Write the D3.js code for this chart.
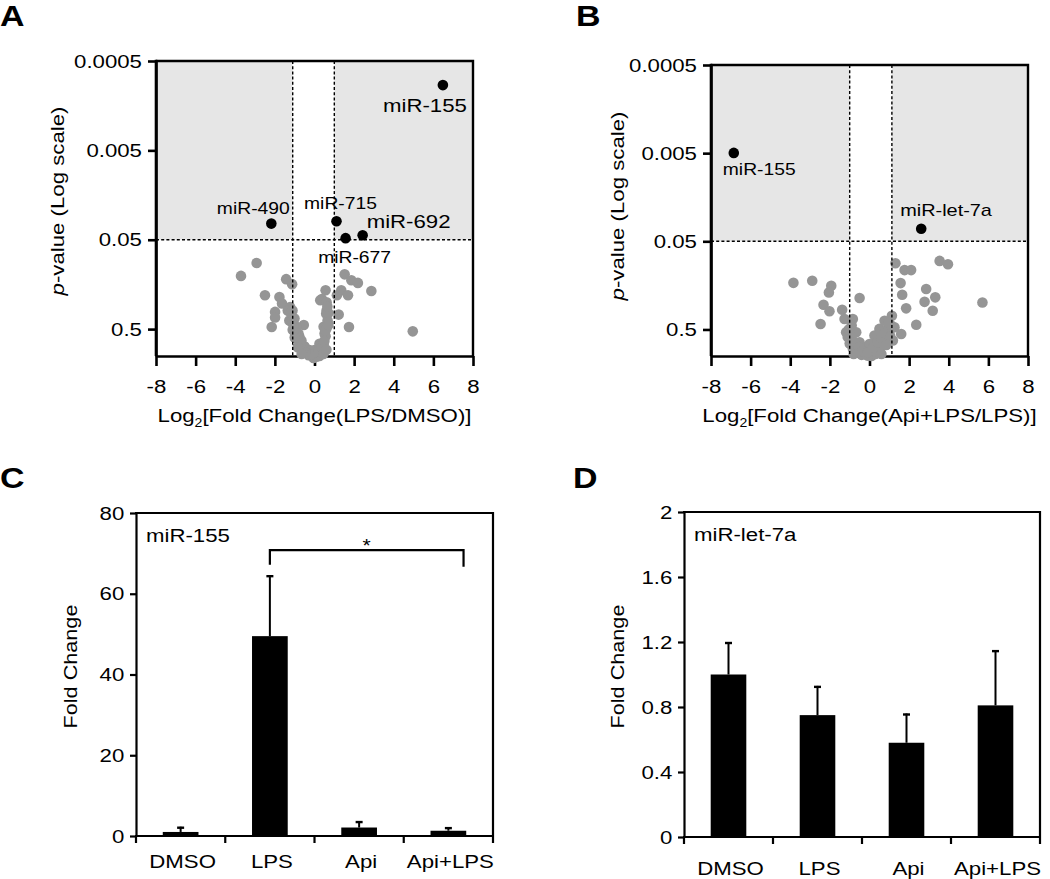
<!DOCTYPE html>
<html>
<head>
<meta charset="utf-8">
<script src="https://cdn.jsdelivr.net/npm/d3@7"></script>
<style>
  html, body { margin: 0; padding: 0; background: #fff; }
  svg text { font-family: 'Liberation Sans', Arial, Helvetica, sans-serif; fill: #000; }
</style>
</head>
<body>
<svg id="fig" width="1050" height="879"></svg>
<script>
// ---------------- DATA ----------------
const fcTicks = [-8, -6, -4, -2, 0, 2, 4, 6, 8];
const pTicks = [0.0005, 0.005, 0.05, 0.5];
const pTickLabels = ["0.0005", "0.005", "0.05", "0.5"];
const pCutoff = 0.05;

// Panel A: Log2 FC (LPS/DMSO), gray (non-significant) miRNAs
const aGrayFC = [-3.71, -2.92, -2.50, -1.43, -1.13, -1.77, -1.64, -1.99, -1.99, -2.16, -1.23, -1.35, -1.27, -1.10,
  -0.54, -0.76, -0.51, -0.25, 0.00, 0.25, 0.51, 0.59, 0.56, 0.37, 0.29, 0.67, 0.46,
  1.52, 1.86, 2.19, 2.87, 1.35, 1.69, 1.13, 1.22, 1.74, 4.96,
  -1.11, -1.01, -0.91, -0.81, -0.66, -0.51, -0.35, -0.20, 0.00, 0.15, 0.30, 0.46, 0.56, 0.61, 0.66, 0.61, 0.61,
  -0.76, -0.96, -1.06, -0.30, 0.25, 0.40, -0.05, 0.10,
  -1.20, -1.05, -0.95, -0.85, -0.70, -0.60, -0.45, -0.15, 0.05, 0.20, 0.35, 0.50, 0.55, 0.70, 0.70, 0.65,
  -1.15, -1.00, -0.85, -0.65, 0.45, 0.60];
const aGrayP = [0.127, 0.091, 0.209, 0.138, 0.157, 0.219, 0.259, 0.321, 0.37, 0.473, 0.283, 0.31, 0.40, 0.51,
  0.45, 0.61, 0.79, 0.86, 0.86, 0.73, 0.56, 0.336, 0.184, 0.23, 0.238, 0.43, 0.47,
  0.122, 0.142, 0.152, 0.187, 0.184, 0.209, 0.209, 0.344, 0.473, 0.53,
  0.31, 0.38, 0.47, 0.56, 0.67, 0.78, 0.86, 0.93, 1.0, 0.95, 0.86, 0.74, 0.60, 0.49, 0.40, 0.31, 0.25,
  0.76, 0.63, 0.52, 0.98, 1.0, 0.91, 1.05, 1.02,
  0.33, 0.45, 0.55, 0.62, 0.72, 0.85, 0.92, 0.97, 0.90, 0.88, 0.80, 0.68, 0.52, 0.45, 0.33, 0.28,
  0.42, 0.62, 0.80, 0.95, 0.95, 0.85];
// Panel A: significant miRNAs
const aHitNames = ["miR-155", "miR-490", "miR-715", "miR-677", "miR-692"];
const aHitFC = [6.48, -2.18, 1.11, 1.57, 2.43];
const aHitP = [0.00093, 0.033, 0.031, 0.048, 0.0445];

// Panel B: Log2 FC (Api+LPS/LPS)
const bGrayFC = [-3.84, -2.89, -1.93, -2.05, -2.32, -2.02, -2.47, -1.38, -1.26, -0.50, -0.84, -1.18, -0.67, -0.50,
  -0.17, -0.84, 1.31, 1.77, 2.10, 1.57, 1.65, 1.85, 2.86, 3.32, 2.78, 3.19, 2.36, 3.54, 3.96, 5.70,
  1.60, 1.26, 1.13, 0.76, 0.50, 0.25, 0.00, 0.17, 0.50, 0.84, 1.18, -0.25, -1.10,
  -0.60, -0.40, 0.10, 0.30, 0.65, 1.00, 1.10, -1.00, -0.90, 0.90, -0.10, 0.35,
  -0.90, -0.75, -0.55, -0.35, -0.10, 0.20, 0.40, 0.60, 0.75, 0.95, 1.05, 0.85, -1.05, -0.80, 0.60];
const bGrayP = [0.148, 0.140, 0.160, 0.190, 0.262, 0.311, 0.434, 0.299, 0.380, 0.220, 0.380, 0.537, 0.537, 0.698,
  0.794, 0.830, 0.0887, 0.106, 0.106, 0.149, 0.202, 0.288, 0.174, 0.216, 0.243, 0.307, 0.442, 0.0834, 0.091, 0.247,
  0.562, 0.472, 0.349, 0.398, 0.493, 0.587, 0.73, 0.906, 0.83, 0.64, 0.668, 0.946, 0.61,
  0.90, 0.97, 1.0, 0.95, 0.75, 0.55, 0.45, 0.72, 0.45, 0.50, 0.99, 0.88,
  0.60, 0.70, 0.80, 0.88, 0.92, 0.80, 0.70, 0.62, 0.55, 0.42, 0.60, 0.75, 0.50, 0.95, 0.95];
const bHitNames = ["miR-155", "miR-let-7a"];
const bHitFC = [-6.85, 2.61];
const bHitP = [0.00497, 0.036];

// Panels C and D: qPCR fold change
const barCats = ["DMSO", "LPS", "Api", "Api+LPS"];
const mir155Mean = [1.0, 49.5, 2.1, 1.3];
const mir155Err = [1.3, 15.1, 1.6, 0.9];
const mir155Ticks = [0, 20, 40, 60, 80];
const let7aMean = [1.0, 0.75, 0.58, 0.81];
const let7aErr = [0.20, 0.18, 0.18, 0.34];
const let7aTicks = [0, 0.4, 0.8, 1.2, 1.6, 2];
const let7aTickLabels = ["0", "0.4", "0.8", "1.2", "1.6", "2"];

// ---------------- DRAWING ----------------
const SX = 1.17; // horizontal glyph stretch of the original figure's font
const svg = d3.select("#fig");

function label(g, x, y, str, o = {}) {
  const t = g.append("text")
    .attr("transform", `translate(${x},${y}) rotate(${o.rotate || 0}) scale(${SX},1)`)
    .attr("text-anchor", o.anchor || "start")
    .attr("font-size", o.size || 19)
    .attr("font-weight", o.weight || "normal")
    .attr("fill", "#000");
  if (str !== null) t.text(str);
  return t;
}

function volcano(cfg) {
  const g = svg.append("g");
  const x = d3.scaleLinear().domain([-8, 8]).range(cfg.xr);
  const y = d3.scaleLog().domain([0.0005, 1]).range(cfg.yr);
  const [x0, x1] = cfg.xr, [yt, yb] = [cfg.yr[0], cfg.yr[1]];

  // shaded significance region
  g.append("rect").attr("x", x0).attr("y", yt).attr("width", x(cfg.thr[0]) - x0).attr("height", y(pCutoff) - yt).attr("fill", "#e6e6e6");
  g.append("rect").attr("x", x(cfg.thr[1])).attr("y", yt).attr("width", x1 - x(cfg.thr[1])).attr("height", y(pCutoff) - yt).attr("fill", "#e6e6e6");

  // axes
  const ya = g.append("g").attr("transform", `translate(${x0},0)`)
    .call(d3.axisLeft(y).tickValues(pTicks).tickFormat((d, i) => pTickLabels[i]).tickSize(8).tickSizeOuter(0).tickPadding(4));
  const xa = g.append("g").attr("transform", `translate(0,${yb})`)
    .call(d3.axisBottom(x).tickValues(fcTicks).tickFormat(d3.format("d")).tickSize(10).tickSizeOuter(0).tickPadding(14));
  [ya, xa].forEach(a => {
    a.select(".domain").attr("stroke-width", 2.6);
    a.selectAll(".tick line").attr("stroke-width", 2.6);
    a.selectAll(".tick text").attr("font-size", 19).attr("fill", "#000")
      .attr("font-family", "'Liberation Sans', Arial, sans-serif");
  });
  ya.selectAll(".tick text").attr("transform", `scale(${SX},1)`);
  xa.selectAll(".tick text").attr("transform", `scale(${SX},1)`).text(d => d < 0 ? "-" + Math.abs(d) : d);
  // frame top & right
  g.append("path").attr("d", `M${x0},${yt}H${x1}V${yb}`).attr("fill", "none").attr("stroke", "#000").attr("stroke-width", 2.4);
  g.append("line").attr("x1", x0).attr("x2", x0).attr("y1", yt - 1.2).attr("y2", yb).attr("stroke", "#000").attr("stroke-width", 2.6);

  // gray points
  g.append("g").selectAll("circle").data(cfg.gFC).join("circle")
    .attr("cx", d => x(d)).attr("cy", (d, i) => y(cfg.gP[i])).attr("r", 5.3).attr("fill", "#959595");

  // dashed thresholds
  const dash = { stroke: "#000", "stroke-width": 1.4, "stroke-dasharray": "3,2.2" };
  const dl = [
    [x(cfg.thr[0]), yt, x(cfg.thr[0]), yb],
    [x(cfg.thr[1]), yt, x(cfg.thr[1]), yb],
    [x0, y(pCutoff), x1, y(pCutoff)]
  ];
  dl.forEach(l => {
    const ln = g.append("line").attr("x1", l[0]).attr("y1", l[1]).attr("x2", l[2]).attr("y2", l[3]);
    Object.entries(dash).forEach(([k, v]) => ln.attr(k, v));
  });

  // significant points
  g.append("g").selectAll("circle").data(cfg.hFC).join("circle")
    .attr("cx", d => x(d)).attr("cy", (d, i) => y(cfg.hP[i])).attr("r", 5.3).attr("fill", "#000");
  cfg.hNames.forEach((n, i) => {
    const o = cfg.lab[i];
    label(g, x(cfg.hFC[i]) + o[0], y(cfg.hP[i]) + o[1], n, { anchor: o[2], size: o[3] });
  });

  // axis titles
  const xt = label(g, (x0 + x1) / 2, yb + 66, null, { anchor: "middle", size: 19 });
  xt.append("tspan").text("Log");
  xt.append("tspan").text("2").attr("font-size", 12).attr("dy", 5);
  xt.append("tspan").text(cfg.xTitle).attr("dy", -5);
  const yt2 = label(g, cfg.yTitleX, cfg.yTitleY, null, { anchor: "middle", size: 19, rotate: -90 });
  yt2.append("tspan").text("p").attr("font-style", "italic").attr("fill", "#000");
  yt2.append("tspan").text("-value (Log scale)").attr("fill", "#000");

  label(g, cfg.letter[1], cfg.letter[2], cfg.letter[0], { size: 29, weight: "bold" });
}

volcano({
  xr: [156, 473], yr: [61, 356], thr: [-1.1, 1.0],
  gFC: aGrayFC, gP: aGrayP, hFC: aHitFC, hP: aHitP, hNames: aHitNames,
  lab: [[24, 27, "end", 19], [-18, -10, "middle", 16.5], [4, -12, "middle", 16.5], [9, 25, "middle", 16.5], [4, -7, "start", 19]],
  xTitle: "[Fold Change(LPS/DMSO)]", yTitleX: 64, yTitleY: 201,
  letter: ["A", 0, 26]
});
volcano({
  xr: [711, 1028], yr: [65, 356], thr: [-1.0, 1.13],
  gFC: bGrayFC, gP: bGrayP, hFC: bHitFC, hP: bHitP, hNames: bHitNames,
  lab: [[-11, 22, "start", 16.5], [-21, -13, "start", 17]],
  xTitle: "[Fold Change(Api+LPS/LPS)]", yTitleX: 624, yTitleY: 206,
  letter: ["B", 576, 26]
});

function barPanel(cfg) {
  const g = svg.append("g");
  const x = d3.scaleBand().domain(barCats).range(cfg.xr).paddingInner(0).paddingOuter(0);
  const y = d3.scaleLinear().domain([0, cfg.ymax]).range(cfg.yr);
  const [x0, x1] = cfg.xr, [yb, yt] = cfg.yr;
  const bw = x.bandwidth() * 0.4;

  // bars
  g.selectAll("rect.bar").data(cfg.mean).join("rect").attr("class", "bar")
    .attr("x", (d, i) => x(barCats[i]) + x.bandwidth() / 2 - bw / 2)
    .attr("y", d => y(d)).attr("width", bw).attr("height", d => y(0) - y(d)).attr("fill", "#000");
  // error bars (upper)
  cfg.mean.forEach((m, i) => {
    const cx = x(barCats[i]) + x.bandwidth() / 2;
    const top = y(m + cfg.err[i]);
    g.append("line").attr("x1", cx).attr("x2", cx).attr("y1", y(m)).attr("y2", top).attr("stroke", "#000").attr("stroke-width", 2);
    g.append("line").attr("x1", cx - 3.5).attr("x2", cx + 3.5).attr("y1", top + 1).attr("y2", top + 1).attr("stroke", "#000").attr("stroke-width", 2.4);
  });

  // y axis
  const ya = g.append("g").attr("transform", `translate(${x0},0)`)
    .call(d3.axisLeft(y).tickValues(cfg.ticks).tickFormat((d, i) => cfg.tickLabels[i]).tickSize(6).tickSizeOuter(0).tickPadding(4));
  ya.select(".domain").attr("stroke-width", 2.2);
  ya.selectAll(".tick line").attr("stroke-width", 2.2);
  ya.selectAll(".tick text").attr("font-size", 19).attr("fill", "#000")
    .attr("font-family", "'Liberation Sans', Arial, sans-serif").attr("transform", `scale(${SX},1)`);
  // x axis line and category-edge ticks
  g.append("line").attr("x1", x0 - 1).attr("x2", x1).attr("y1", yb).attr("y2", yb).attr("stroke", "#000").attr("stroke-width", 2.2);
  const edges = barCats.map(c => x(c)).concat([x1]);
  g.selectAll("line.edge").data(edges).join("line").attr("class", "edge")
    .attr("x1", d => d).attr("x2", d => d).attr("y1", yb).attr("y2", yb + 7).attr("stroke", "#000").attr("stroke-width", 2.2);
  barCats.forEach(c => label(g, x(c) + x.bandwidth() / 2 + 2, yb + cfg.xLabDy, c, { anchor: "middle", size: 19 }));
  // frame
  g.append("path").attr("d", `M${x0 - 1},${yt}H${x1}V${yb}`).attr("fill", "none").attr("stroke", "#000").attr("stroke-width", 2.2);

  label(g, x0 + 10, yt + 29, cfg.name, { size: 19 });
  label(g, cfg.yTitleX, (yt + yb) / 2 - 8, "Fold Change", { anchor: "middle", size: 18.5, rotate: -90 });
  label(g, cfg.letter[1], cfg.letter[2], cfg.letter[0], { size: 29, weight: "bold" });
  return { g, x, y };
}

const C = barPanel({
  xr: [136, 493], yr: [836, 513], ymax: 80, mean: mir155Mean, err: mir155Err,
  ticks: mir155Ticks, tickLabels: mir155Ticks.map(String), name: "miR-155",
  xLabDy: 32, yTitleX: 77, letter: ["C", 0, 488]
});
// significance bracket LPS vs Api+LPS
{
  const { g, x, y } = C;
  const xl = x("LPS") + x.bandwidth() / 2;
  const xr = x("Api+LPS") + x.bandwidth() * 0.67;
  g.append("path").attr("d", `M${xl},${y(67.2)}V${y(70.8)}H${xr}V${y(66.7)}`)
    .attr("fill", "none").attr("stroke", "#000").attr("stroke-width", 2.2);
  label(g, (xl + xr) / 2, y(70.8) + 2, "*", { anchor: "middle", size: 18 });
}

barPanel({
  xr: [684, 1040], yr: [837, 512], ymax: 2, mean: let7aMean, err: let7aErr,
  ticks: let7aTicks, tickLabels: let7aTickLabels, name: "miR-let-7a",
  xLabDy: 38, yTitleX: 624, letter: ["D", 573, 488]
});
</script>
</body>
</html>
